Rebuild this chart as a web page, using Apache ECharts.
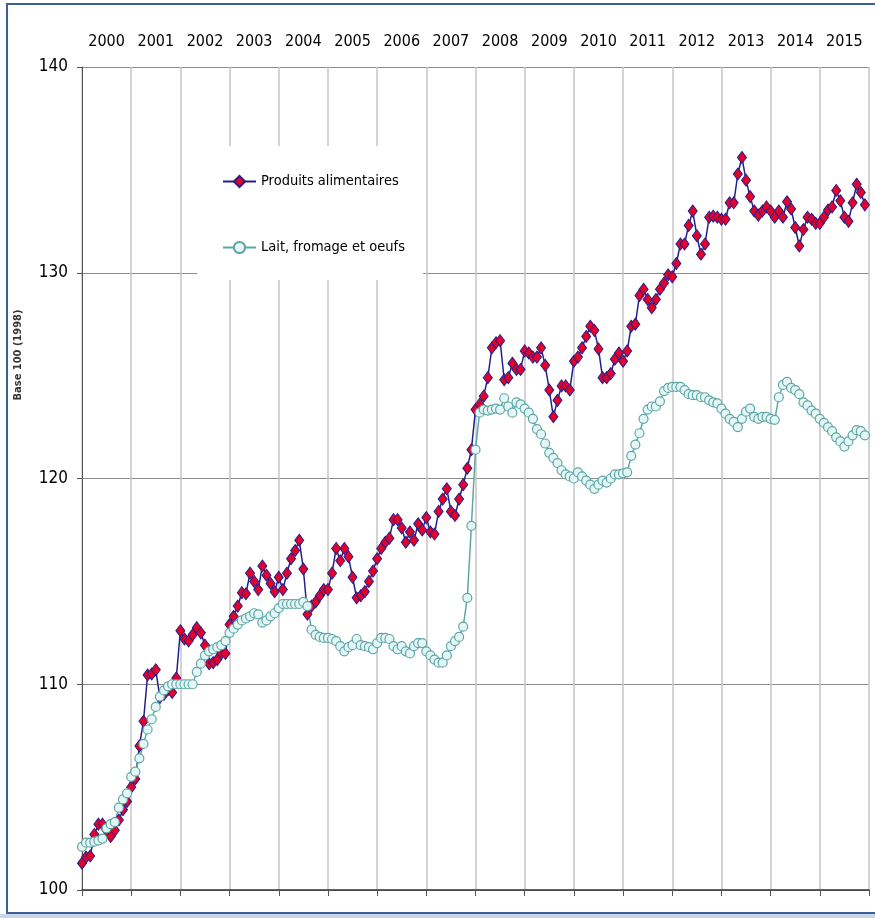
<!DOCTYPE html>
<html>
<head>
<meta charset="utf-8">
<script src="https://cdn.jsdelivr.net/npm/echarts@6/dist/echarts.min.js"></script>
<style>
  html, body { margin: 0; padding: 0; background: #fff; }
  #chart { width: 875px; height: 918px; }
</style>
</head>
<body>
<div id="chart"></div>
<script>
// top labels, one per year column
const years = ['2000', '2001', '2002', '2003', '2004', '2005', '2006', '2007',
    '2008', '2009', '2010', '2011', '2012', '2013', '2014', '2015']

const seriesNames = ['Produits alimentaires', 'Lait, fromage et oeufs']

// monthly index, base 100 in 1998 (one row = one year, Jan..Dec)
const produitsAlimentaires = [
    101.3, 101.6, 101.65, 102.7, 103.2, 103.2, 102.9, 102.6, 102.9, 103.4, 103.9, 104.3,
    105.0, 105.4, 107.0, 108.2, 110.45, 110.5, 110.7, 109.35, 109.5, 109.75, 109.6, 110.3,
    112.6, 112.2, 112.1, 112.4, 112.75, 112.5, 111.9, 111.0, 111.05, 111.2, 111.5, 111.5,
    112.9, 113.3, 113.8, 114.45, 114.4, 115.4, 115.0, 114.6, 115.75, 115.3, 114.9, 114.5,
    115.2, 114.6, 115.4, 116.1, 116.5, 117.0, 115.6, 113.4, 113.8, 114.0, 114.3, 114.6,
    114.6, 115.4, 116.6, 116.0, 116.6, 116.2, 115.2, 114.2, 114.3, 114.5, 115.0, 115.5,
    116.1, 116.6, 116.9, 117.1, 118.0, 118.0, 117.6, 116.9, 117.4, 117.0, 117.8, 117.5,
    118.1, 117.4, 117.3, 118.4, 119.0, 119.5, 118.4, 118.2, 119.0, 119.7, 120.5, 121.4,
    123.35, 123.6, 124.0, 124.9, 126.35, 126.6, 126.7, 124.8, 124.9, 125.6, 125.3, 125.3,
    126.2, 126.1, 125.9, 125.9, 126.35, 125.5, 124.3, 123.0, 123.8, 124.5, 124.5, 124.3,
    125.7, 125.9, 126.35, 126.9, 127.4, 127.2, 126.3, 124.9, 124.9, 125.1, 125.8, 126.1,
    125.7, 126.2, 127.4, 127.5, 128.9, 129.2, 128.7, 128.3, 128.7, 129.2, 129.5, 129.9,
    129.8, 130.45, 131.4, 131.4, 132.3, 133.0, 131.8, 130.9, 131.4, 132.7, 132.75, 132.7,
    132.6, 132.6, 133.4, 133.4, 134.8, 135.6, 134.5, 133.7, 133.0, 132.8, 133.0, 133.2,
    133.0, 132.7, 133.0, 132.7, 133.45, 133.1, 132.2, 131.3, 132.1, 132.7, 132.6, 132.4,
    132.4, 132.7, 133.05, 133.2, 134.0, 133.5, 132.7, 132.5, 133.4, 134.3, 133.9, 133.3
]

const laitFromageOeufs = [
    102.1, 102.3, 102.3, 102.35, 102.4, 102.5, 103.0, 103.2, 103.3, 104.0, 104.4, 104.7,
    105.5, 105.75, 106.4, 107.1, 107.8, 108.3, 108.9, 109.4, 109.7, 109.9, 110.0, 110.0,
    110.0, 110.0, 110.0, 110.0, 110.6, 111.0, 111.4, 111.6, 111.7, 111.8, 111.9, 112.1,
    112.5, 112.7, 112.9, 113.1, 113.2, 113.3, 113.45, 113.4, 113.0, 113.1, 113.3, 113.45,
    113.7, 113.9, 113.9, 113.9, 113.9, 113.9, 114.0, 113.8, 112.65, 112.4, 112.3, 112.25,
    112.25, 112.2, 112.1, 111.85, 111.6, 111.8, 111.9, 112.2, 111.9, 111.85, 111.8, 111.7,
    112.0, 112.25, 112.25, 112.2, 111.85, 111.7, 111.85, 111.6, 111.5, 111.85, 112.0, 112.0,
    111.6, 111.4, 111.2, 111.05, 111.05, 111.4, 111.85, 112.1, 112.3, 112.8, 114.2, 117.7,
    121.4, 123.2, 123.35, 123.3, 123.35, 123.4, 123.35, 123.9, 123.5, 123.2, 123.7, 123.6,
    123.4, 123.2, 122.9, 122.4, 122.15, 121.7, 121.25, 121.0, 120.75, 120.4, 120.2, 120.1,
    120.0, 120.3, 120.1, 119.9, 119.7, 119.5, 119.7, 119.9, 119.8, 120.0, 120.2, 120.2,
    120.25, 120.3, 121.1, 121.65, 122.2, 122.9, 123.35, 123.5, 123.5, 123.75, 124.25, 124.4,
    124.45, 124.45, 124.45, 124.3, 124.1, 124.05, 124.05, 123.95, 123.95, 123.8, 123.7, 123.65,
    123.4, 123.15, 122.9, 122.75, 122.5, 122.9, 123.25, 123.4, 123.0, 122.9, 123.0, 123.0,
    122.9, 122.85, 123.95, 124.55, 124.7, 124.4, 124.3, 124.1, 123.7, 123.55, 123.3, 123.15,
    122.9, 122.7, 122.5, 122.3, 122.0, 121.8, 121.55, 121.8, 122.1, 122.35, 122.3, 122.1
]

const yTicks = [100, 110, 120, 130, 140]

const narrow = '"Liberation Sans Narrow", "DejaVu Sans Condensed", "Liberation Sans", sans-serif'

// month index -> [index, value]
const toPoints = arr => arr.map((v, i) => [i, v])

const chart = echarts.init(document.getElementById('chart'), null, { renderer: 'canvas' })

chart.setOption({
    backgroundColor: '#fff',
    animation: false,
    grid: { left: 82, right: 6, top: 67, bottom: 28 },
    graphic: [
        {
            type: 'rect',
            shape: { x: 7, y: 4, width: 900, height: 909 },
            style: { fill: 'none', stroke: '#3c5f9a', lineWidth: 2 },
            z: 100
        },
        {
            type: 'rect',
            shape: { x: 0, y: 914, width: 875, height: 4 },
            style: { fill: '#c9d6e6' },
            z: 100
        },
        {
            type: 'text',
            x: 18,
            y: 355,
            rotation: Math.PI / 2,
            style: {
                text: 'Base 100 (1998)',
                font: 'bold 11px "DejaVu Sans Condensed", "DejaVu Sans", sans-serif',
                fill: '#333',
                align: 'center',
                verticalAlign: 'middle'
            }
        }
    ],
    legend: {
        orient: 'vertical',
        left: 197,
        top: 146,
        data: seriesNames,
        backgroundColor: '#fff',
        padding: [28, 18, 25, 25],
        itemGap: 51,
        itemWidth: 33,
        itemHeight: 14,
        textStyle: { fontFamily: narrow, fontSize: 14.5, color: '#000' },
        z: 10
    },
    xAxis: [
        {
            type: 'value',
            min: 0,
            max: years.length * 12,
            interval: 12,
            position: 'bottom',
            axisLine: { show: true, lineStyle: { color: '#333', width: 1.5 } },
            axisTick: { show: true, length: 6, lineStyle: { color: '#555' } },
            axisLabel: { show: false },
            splitLine: { show: true, lineStyle: { color: '#c6c6c6', width: 1.5 } }
        },
        {
            type: 'category',
            data: years,
            position: 'top',
            boundaryGap: true,
            axisLine: { show: false },
            axisTick: { show: false },
            splitLine: { show: false },
            axisLabel: { fontFamily: narrow, fontSize: 16, color: '#000', margin: 17 }
        }
    ],
    yAxis: {
        type: 'value',
        min: yTicks[0],
        max: yTicks[yTicks.length - 1],
        interval: 10,
        axisLine: { show: true, lineStyle: { color: '#555', width: 1 } },
        axisTick: { show: true, length: 5, lineStyle: { color: '#555' } },
        axisLabel: { fontFamily: narrow, fontSize: 17, color: '#000', margin: 14 },
        splitLine: { show: true, lineStyle: { color: '#8c8c8c', width: 1 } }
    },
    series: [
        {
            name: seriesNames[0],
            type: 'line',
            xAxisIndex: 0,
            data: toPoints(produitsAlimentaires),
            symbol: 'diamond',
            symbolSize: [9, 12],
            showAllSymbol: true,
            lineStyle: { color: '#23208a', width: 1.5 },
            itemStyle: { color: '#e3002b', borderColor: '#23208a', borderWidth: 1 }
        },
        {
            name: seriesNames[1],
            type: 'line',
            xAxisIndex: 0,
            data: toPoints(laitFromageOeufs),
            symbol: 'circle',
            symbolSize: 9,
            showAllSymbol: true,
            lineStyle: { color: '#5fa6a6', width: 1.5 },
            itemStyle: { color: '#e4f6f6', borderColor: '#5fa6a6', borderWidth: 1.2 }
        }
    ]
})
</script>
</body>
</html>
